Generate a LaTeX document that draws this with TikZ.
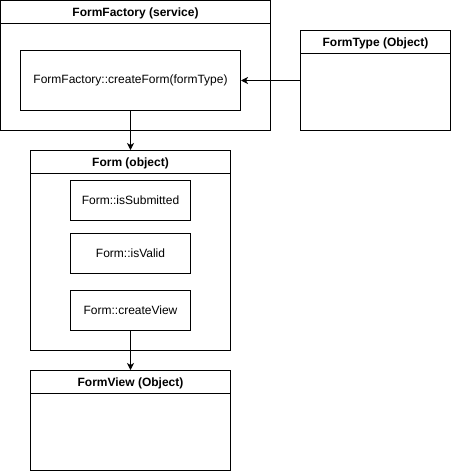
\documentclass[tikz,border=0pt]{standalone}
\usepackage{fontspec}
\setmainfont{Liberation Sans}
\usetikzlibrary{arrows.meta}

\tikzset{
	container/.style={draw, line width=1pt, anchor=north west, inner sep=0pt},
	header/.style={inner sep=0pt, yshift=-13pt,
		font=\fontsize{12}{14}\selectfont\bfseries},
	divider/.style={line width=1pt},
	method/.style={draw, line width=1pt, anchor=north west, inner sep=0pt,
		font=\fontsize{12}{14}\selectfont},
	link/.style={line width=1pt, -{Stealth[length=7pt,width=7pt,inset=2pt]}}
}

\begin{document}
\begin{tikzpicture}[x=1pt,y=-1pt]
			\useasboundingbox (0,0) rectangle (451,471);
			
			% FormFactory
			\node[container, minimum width=270pt, minimum height=130pt] (factory) at (0,0) {};
			\node[header] (factoryhead) at (factory.north) {FormFactory (service)};
			\draw[divider] ([yshift=-23pt]factory.north west) -- ([yshift=-23pt]factory.north east);
			\node[method, minimum width=220pt, minimum height=60pt] (create) at (20,50) {FormFactory::createForm(formType)};
			
			% FormType
			\node[container, minimum width=150pt, minimum height=100pt] (formtype) at (300,30) {};
			\node[header] (formtypehead) at (formtype.north) {FormType (Object)};
			\draw[divider] ([yshift=-23pt]formtype.north west) -- ([yshift=-23pt]formtype.north east);
			
			% Form
			\node[container, minimum width=200pt, minimum height=200pt] (form) at (30,150) {};
			\node[header] (formhead) at (form.north) {Form (object)};
			\draw[divider] ([yshift=-23pt]form.north west) -- ([yshift=-23pt]form.north east);
			\node[method, minimum width=120pt, minimum height=40pt] (submitted) at (70,180) {Form::isSubmitted};
			\node[method, minimum width=120pt, minimum height=40pt] (valid) at (70,233) {Form::isValid};
			\node[method, minimum width=120pt, minimum height=40pt] (createview) at (70,290) {Form::createView};
			
			% FormView
			\node[container, minimum width=200pt, minimum height=100pt] (formview) at (30,370) {};
			\node[header] (formviewhead) at (formview.north) {FormView (Object)};
			\draw[divider] ([yshift=-23pt]formview.north west) -- ([yshift=-23pt]formview.north east);
			
			\draw[link] (formtype.west) -- (create.east);
			\draw[link] (create.south) -- (form.north);
			\draw[link] (createview.south) -- (formview.north);
			
\end{tikzpicture}
\end{document}
